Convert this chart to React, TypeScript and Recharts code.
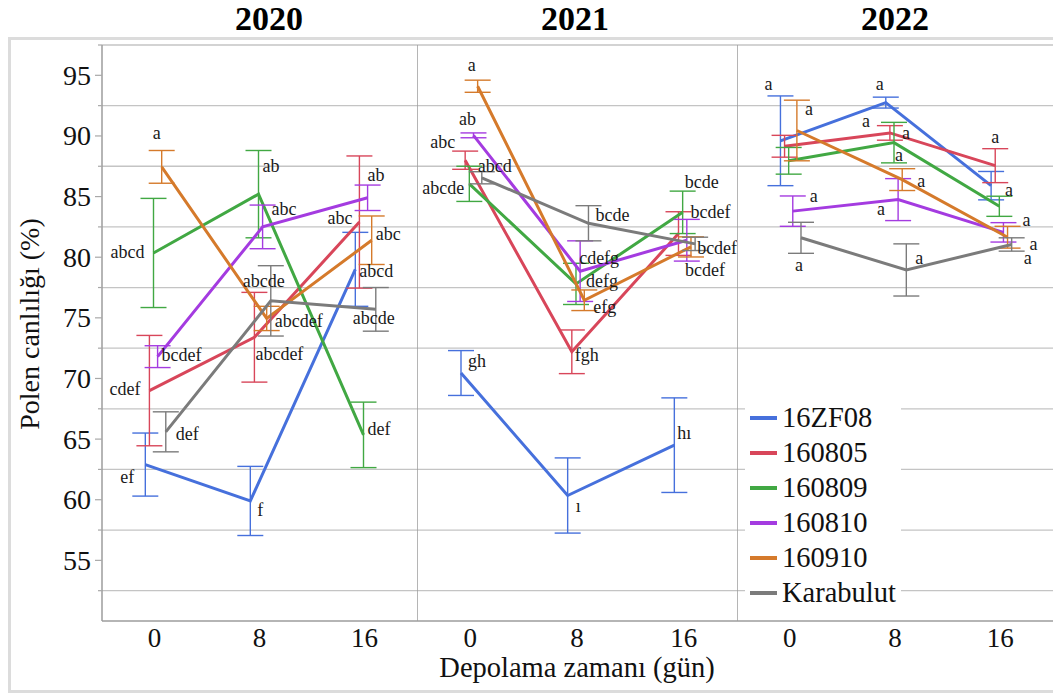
import React from 'react';
import { LineChart, Line, XAxis, YAxis, ErrorBar, CartesianGrid, ReferenceLine, Legend } from 'recharts';

const FONT = "'Liberation Serif', 'Times New Roman', Times, serif";

const cultivars = ['16ZF08', '160805', '160809', '160810', '160910', 'Karabulut'];
const seriesColors = ['#4670dc', '#d8465a', '#41a843', '#a43be0', '#d57a2b', '#7b7b7b'];
const years = ['2020', '2021', '2022'];
const dayLabels = ['0', '8', '16'];
const yMajorTicks = [55, 60, 65, 70, 75, 80, 85, 90, 95];
const gridValues = [52.5, 57.5, 62.5, 67.5, 72.5, 77.5, 82.5, 87.5, 92.5, 97.5];

// Mean viability (%) per cultivar (rows) and storage day (columns)
const mean2020 = [
  [62.9, 59.9, 79.0],
  [69.0, 73.4, 82.9],
  [80.35, 85.2, 65.35],
  [71.8, 82.5, 84.9],
  [87.45, 74.95, 81.4],
  [65.6, 76.4, 75.7],
];
const err2020 = [
  [2.6, 2.85, 3.05],
  [4.55, 3.7, 5.45],
  [4.5, 3.6, 2.7],
  [0.9, 1.8, 1.05],
  [1.35, 1.0, 2.0],
  [1.65, 2.9, 1.8],
];
const letters2020 = [
  ['ef', 'f', 'abcd'],
  ['cdef', 'abcdef', 'abc'],
  ['abcd', 'ab', 'def'],
  ['bcdef', 'abc', 'ab'],
  ['a', 'abcdef', 'abc'],
  ['def', 'abcde', 'abcde'],
];

const mean2021 = [
  [70.45, 60.35, 64.5],
  [88.0, 72.2, 81.95],
  [86.05, 77.8, 83.7],
  [90.05, 78.85, 81.4],
  [94.1, 76.45, 80.85],
  [86.55, 82.8, 81.1],
];
const err2021 = [
  [1.85, 3.1, 3.9],
  [0.75, 1.8, 1.8],
  [1.45, 1.7, 1.75],
  [0.2, 2.5, 1.72],
  [0.5, 0.85, 0.83],
  [0.5, 1.45, 0.55],
];
const letters2021 = [
  ['gh', 'ı', 'hı'],
  ['abc', 'fgh', 'bcdef'],
  ['abcde', 'defg', 'bcde'],
  ['ab', 'cdefg', ''],
  ['a', 'efg', 'bcdef'],
  ['abcd', 'bcde', 'bcdef'],
];

const mean2022 = [
  [89.6, 92.75, 85.9],
  [89.15, 90.25, 87.55],
  [87.95, 89.45, 84.2],
  [83.8, 84.75, 82.05],
  [90.45, 86.4, 81.65],
  [81.6, 78.95, 81.05],
];
const err2022 = [
  [3.7, 0.45, 1.17],
  [0.9, 0.6, 1.4],
  [1.1, 1.67, 0.83],
  [1.25, 1.73, 0.8],
  [2.5, 0.9, 0.9],
  [1.28, 2.15, 0.55],
];
const letters2022 = [
  ['a', 'a', 'a'],
  ['', 'a', 'a'],
  ['', 'a', ''],
  ['a', 'a', 'a'],
  ['a', 'a', 'a'],
  ['a', 'a', 'a'],
];

// Letter placement relative to each point: [dx, dy, anchor]
type Pos = [number, number, 's' | 'm' | 'e'];
const labelPos2020: Pos[][][] = [
  [[[-11, 12, 'e']], [[7, 9, 's']], [[4, 2, 's']]],
  [[[-9, -2, 'e']], [[1, 17, 's']], [[-7, -4, 'e']]],
  [[[-9, -1, 'e']], [[4, -28, 's']], [[4, -6, 's']]],
  [[[4, -2, 's']], [[9, -18, 's']], [[0, -23, 's']]],
  [[[-5, -34, 'm']], [[8, 3, 's']], [[4, -6, 's']]],
  [[[10, 2, 's']], [[-28, -20, 's']], [[-23, 9, 's']]],
];
const labelPos2021: Pos[][][] = [
  [[[7, -12, 's']], [[8, 11, 's']], [[3, -12, 's']]],
  [[[-10, -18, 'e']], [[3, 3, 's']], [[12, -22, 's']]],
  [[[-5, 4, 'e']], [[10, -3, 's']], [[2, -30, 's']]],
  [[[-6, -16, 'm']], [[-1, -13, 's']], []],
  [[[-6, -21, 'm']], [[9, 7, 's']], [[-6, 23, 's']]],
  [[[-4, -12, 's']], [[7, -8, 's']], [[2, 4, 's']]],
];
const labelPos2022: Pos[][][] = [
  [[[-12, -57, 'm']], [[-6, -19, 'm']], [[18, 4, 'm']]],
  [[], [[-24, -12, 'm'], [16, 0, 'm']], [[0, -29, 'm']]],
  [[], [[5, 12, 'm']], []],
  [[[21, -15, 'm']], [[-17, 9, 'm']], [[23, -12, 'm']]],
  [[[12, -21, 'm']], [[19, 1, 'm']], [[26, 7, 'm']]],
  [[[-2, 27, 'm']], [[13, -12, 'm']], [[16, 14, 'm']]],
];

const panels = [
  { means: mean2020, errs: err2020, letters: letters2020, pos: labelPos2020, left: 0, width: 417, yAxis: true },
  { means: mean2021, errs: err2021, letters: letters2021, pos: labelPos2021, left: 417, width: 320, yAxis: false },
  { means: mean2022, errs: err2022, letters: letters2022, pos: labelPos2022, left: 737, width: 316, yAxis: false },
];

const titleCenters = [269, 575, 895];

const anchorOf = (a: 's' | 'm' | 'e') => (a === 's' ? 'start' : a === 'e' ? 'end' : 'middle');

// Cultivars are dodged slightly around each storage day
const buildSeries = (means: number[][], errs: number[][], letters: string[][], ci: number) =>
  means[ci].map((v, d) => ({
    x: d + (ci - 2.5) * 0.039 + 0.01,
    y: v,
    err: errs[ci][d],
    letter: letters[ci][d],
    day: d,
    cult: ci,
  }));

const makeLetterDot = (pos: Pos[][][]) => (props: any) => {
  const { cx, cy, payload } = props;
  const places = pos[payload.cult][payload.day] || [];
  return (
    <g key={`l-${payload.cult}-${payload.day}`}>
      {payload.letter
        ? places.map((p, k) => (
            <text
              key={k}
              x={cx + p[0]}
              y={cy + p[1]}
              textAnchor={anchorOf(p[2])}
              dominantBaseline="central"
              fontSize={18}
              fontFamily={FONT}
              fill="#1a1a1a"
            >
              {payload.letter}
            </text>
          ))
        : null}
    </g>
  );
};

const YTick = (props: any) => {
  const { x, y, payload } = props;
  const major = payload.value % 5 === 0;
  return (
    <g>
      <line x1={x - (major ? 7 : 4)} x2={x} y1={y} y2={y} stroke="#a8a8a8" strokeWidth={1.2} />
      {major && (
        <text x={x - 11} y={y} textAnchor="end" dominantBaseline="central" fontSize={28} fontFamily={FONT} fill="#111">
          {payload.value}
        </text>
      )}
    </g>
  );
};

const XTick = (props: any) => {
  const { x, y, payload } = props;
  return (
    <text x={x} y={y + 17} textAnchor="middle" dominantBaseline="central" fontSize={27} fontFamily={FONT} fill="#111">
      {dayLabels[payload.value]}
    </text>
  );
};

const LegendBox = (props: any) => {
  const { payload = [] } = props;
  const ordered = [...payload].sort((a: any, b: any) => cultivars.indexOf(a.value) - cultivars.indexOf(b.value));
  return (
    <div style={{ background: '#fff', width: 156, fontFamily: FONT }}>
      {ordered.map((e: any) => (
        <div key={e.value} style={{ height: 35, display: 'flex', alignItems: 'center' }}>
          <span style={{ display: 'inline-block', width: 27, height: 4, background: e.color, marginLeft: 5, marginRight: 5 }} />
          <span style={{ fontSize: 28.5, color: '#111', lineHeight: '35px', whiteSpace: 'nowrap' }}>{e.value}</span>
        </div>
      ))}
    </div>
  );
};

const Panel = ({ p, idx }: { p: (typeof panels)[number]; idx: number }) => (
  <div style={{ position: 'absolute', left: p.left, top: 0 }}>
    <LineChart width={p.width} height={695} margin={{ top: 45, right: 0, bottom: 0, left: 0 }}>
      <CartesianGrid horizontalValues={gridValues} vertical={false} stroke="#c4c4c4" strokeWidth={1.3} />
      <XAxis
        type="number"
        dataKey="x"
        domain={[-0.5, 2.5]}
        ticks={[0, 1, 2]}
        interval={0}
        height={74}
        tickSize={0}
        tickMargin={0}
        tickLine={false}
        axisLine={{ stroke: '#9c9c9c', strokeWidth: 1.5 }}
        tick={<XTick />}
      />
      {p.yAxis ? (
        <YAxis
          type="number"
          domain={[50, 97.5]}
          ticks={[...gridValues, ...yMajorTicks].sort((a, b) => a - b)}
          interval={0}
          width={102}
          tickSize={0}
          tickMargin={0}
          tickLine={false}
          axisLine={{ stroke: '#9c9c9c', strokeWidth: 1.5 }}
          tick={<YTick />}
        />
      ) : (
        <YAxis type="number" domain={[50, 97.5]} hide />
      )}
      {!p.yAxis && <ReferenceLine x={-0.5} stroke="#9c9c9c" strokeWidth={1.5} />}
      {cultivars.map((name, ci) => (
        <Line
          key={name}
          name={name}
          data={buildSeries(p.means, p.errs, p.letters, ci)}
          dataKey="y"
          stroke={seriesColors[ci]}
          strokeWidth={3}
          dot={makeLetterDot(p.pos)}
          activeDot={false}
          isAnimationActive={false}
        >
          <ErrorBar dataKey="err" width={13} stroke={seriesColors[ci]} strokeWidth={1.4} direction="y" />
        </Line>
      ))}
      {idx === 2 && (
        <Legend
          layout="vertical"
          align="center"
          verticalAlign="middle"
          content={<LegendBox />}
          wrapperStyle={{ left: 8, top: 400, width: 156, height: 210 }}
        />
      )}
    </LineChart>
  </div>
);

export default function App() {
  return (
    <div style={{ position: 'absolute', left: 0, top: 0, width: 1053, height: 695, background: '#fff', overflow: 'hidden' }}>
      <div
        style={{
          position: 'absolute',
          left: 8,
          top: 37,
          width: 1060,
          height: 656,
          border: '3px solid #dcdcdc',
          boxSizing: 'border-box',
        }}
      />
      {panels.map((p, i) => (
        <Panel key={years[i]} p={p} idx={i} />
      ))}
      {years.map((y, i) => (
        <div
          key={y}
          style={{
            position: 'absolute',
            left: titleCenters[i] - 60,
            top: 0,
            width: 120,
            height: 38,
            lineHeight: '38px',
            textAlign: 'center',
            fontFamily: FONT,
            fontWeight: 'bold',
            fontSize: 34,
            color: '#000',
          }}
        >
          {y}
        </div>
      ))}
      <div
        style={{
          position: 'absolute',
          left: 30 - 160,
          top: 324 - 18,
          width: 320,
          height: 36,
          lineHeight: '36px',
          textAlign: 'center',
          fontFamily: FONT,
          fontSize: 28,
          color: '#111',
          transform: 'rotate(-90deg)',
        }}
      >
        Polen canlılığı (%)
      </div>
      <div
        style={{
          position: 'absolute',
          left: 577 - 200,
          top: 668 - 18,
          width: 400,
          height: 36,
          lineHeight: '36px',
          textAlign: 'center',
          fontFamily: FONT,
          fontSize: 28.5,
          color: '#111',
        }}
      >
        Depolama zamanı (gün)
      </div>
    </div>
  );
}
